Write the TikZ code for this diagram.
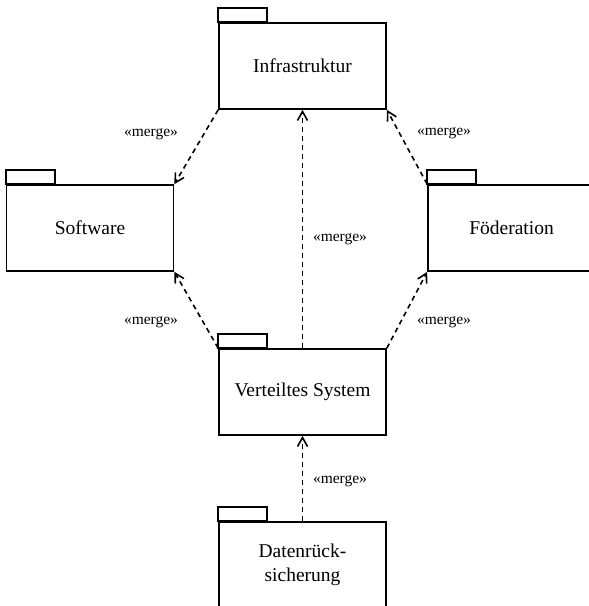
\documentclass[tikz,border=0pt]{standalone}
\usepackage{fontspec}
\setmainfont{Liberation Serif}
\usetikzlibrary{arrows.meta}
\begin{document}
\begin{tikzpicture}[x=1pt,y=-1pt,
  pkg/.style={draw,line width=1.7pt,minimum width=167pt,minimum height=86pt,inner sep=0pt,font=\fontsize{19.5}{23.5}\selectfont,align=center},
  tab/.style={draw,line width=1.7pt},
  merge/.style={line width=1.6pt,dash pattern=on 5pt off 4pt,-{Straight Barb[length=9pt,width=10pt,line width=1.6pt]}},
  lbl/.style={font=\fontsize{15.5}{18}\selectfont,inner sep=0pt}]
\useasboundingbox (0,0) rectangle (589,606);
\clip (0,0) rectangle (589,606);
% packages
\node[pkg] (I) at (302.5,66) {Infrastruktur};
\node[pkg] (S) at (90,228) {Software};
\node[pkg] (F) at (511.5,228) {Föderation};
\node[pkg] (V) at (302.5,392) {Verteiltes System};
\node[pkg] (D) at (302.5,565) {Datenrück-\\sicherung};
% tabs
\foreach \n in {I,S,F,V,D}{
  \draw[tab] (\n.north west) rectangle ++(49,-14);
}
% connectors
\draw[merge] (I.south west) -- (S.north east);
\draw[merge] (V.north) -- (I.south);
\draw[merge] (F.north west) -- (I.south east);
\draw[merge] (V.north west) -- (S.south east);
\draw[merge] (V.north east) -- (F.south west);
\draw[merge] (D.north) -- (V.south);
% labels
\node[lbl] (l1) at (151,134) {«merge»};
\node[lbl] (l2) at (340,239) {«merge»};
\node[lbl] (l3) at (444,133) {«merge»};
\node[lbl] (l4) at (151,322) {«merge»};
\node[lbl] (l5) at (444,322) {«merge»};
\node[lbl] (l6) at (340,481) {«merge»};
\end{tikzpicture}
\end{document}
